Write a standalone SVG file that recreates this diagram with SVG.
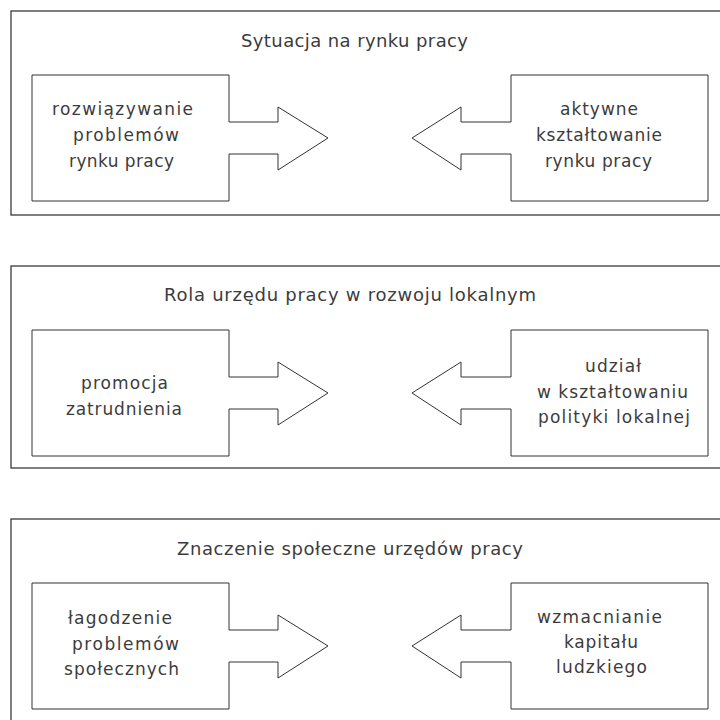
<svg xmlns="http://www.w3.org/2000/svg" width="720" height="720" viewBox="0 0 720 720">
<style>
.frame{fill:none;stroke:#3a3a3a;stroke-width:1.3}
.box{fill:#fff;stroke:#333;stroke-width:1}
.t{font-family:"DejaVu Sans","Open Sans",sans-serif;fill:#3c3c3c;font-size:17px}
.h{font-family:"DejaVu Sans","Open Sans",sans-serif;fill:#3c3c3c;font-size:18px}
</style>
<defs>
<polygon id="larrow" points="32,75 229,75 229,122 278,122 278,107 328,138 278,170 278,154 229,154 229,201 32,201"/>
<polygon id="rarrow" points="708,75 511,75 511,122 461,122 461,107 412,138 461,170 461,154 511,154 511,201 708,201"/>
</defs>
<rect width="720" height="720" fill="#fff"/>

<g id="panel1">
<rect class="frame" x="11" y="11" width="730" height="204"/>
<text class="h" x="241" y="47" textLength="227" lengthAdjust="spacing">Sytuacja na rynku pracy</text>
<g id="node1a">
<use href="#larrow" class="box"/>
<text class="t" x="52" y="115" textLength="141" lengthAdjust="spacing">rozwiązywanie</text>
<text class="t" x="73" y="141" textLength="106" lengthAdjust="spacing">problemów</text>
<text class="t" x="69" y="167" textLength="105" lengthAdjust="spacing">rynku pracy</text>
</g>
<g id="node1b">
<use href="#rarrow" class="box"/>
<text class="t" x="560" y="115" textLength="78" lengthAdjust="spacing">aktywne</text>
<text class="t" x="536" y="141" textLength="126" lengthAdjust="spacing">kształtowanie</text>
<text class="t" x="545" y="167" textLength="107" lengthAdjust="spacing">rynku pracy</text>
</g>
</g>

<g id="panel2" transform="translate(0,255)">
<rect class="frame" x="11" y="11" width="730" height="202"/>
<text class="h" x="164" y="46" textLength="372" lengthAdjust="spacing">Rola urzędu pracy w rozwoju lokalnym</text>
<g id="node2a">
<use href="#larrow" class="box"/>
<text class="t" x="81" y="134" textLength="87" lengthAdjust="spacing">promocja</text>
<text class="t" x="66" y="160" textLength="116" lengthAdjust="spacing">zatrudnienia</text>
</g>
<g id="node2b">
<use href="#rarrow" class="box"/>
<text class="t" x="585" y="117" textLength="56" lengthAdjust="spacing">udział</text>
<text class="t" x="537" y="143" textLength="151" lengthAdjust="spacing">w kształtowaniu</text>
<text class="t" x="538" y="168" textLength="152" lengthAdjust="spacing">polityki lokalnej</text>
</g>
</g>

<g id="panel3" transform="translate(0,508)">
<rect class="frame" x="11" y="11" width="730" height="230"/>
<text class="h" x="177" y="47" textLength="346" lengthAdjust="spacing">Znaczenie społeczne urzędów pracy</text>
<g id="node3a">
<use href="#larrow" class="box"/>
<text class="t" x="68" y="116" textLength="104" lengthAdjust="spacing">łagodzenie</text>
<text class="t" x="72" y="142" textLength="107" lengthAdjust="spacing">problemów</text>
<text class="t" x="64" y="167" textLength="115" lengthAdjust="spacing">społecznych</text>
</g>
<g id="node3b">
<use href="#rarrow" class="box"/>
<text class="t" x="537" y="115" textLength="125" lengthAdjust="spacing">wzmacnianie</text>
<text class="t" x="564" y="140" textLength="74" lengthAdjust="spacing">kapitału</text>
<text class="t" x="556" y="165" textLength="91" lengthAdjust="spacing">ludzkiego</text>
</g>
</g>
</svg>
